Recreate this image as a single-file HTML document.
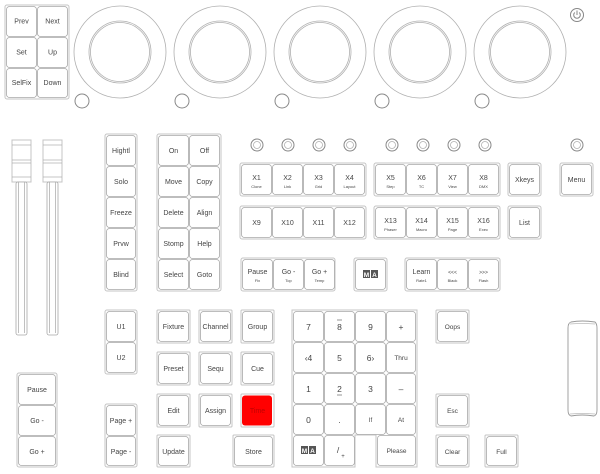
<!DOCTYPE html>
<html><head><meta charset="utf-8"><style>
body{margin:0;background:#fff}
svg{display:block}
text{font-family:"Liberation Sans",sans-serif;fill:#444;text-anchor:middle}
.g{fill:#fff;stroke:#c4c4c4;stroke-width:1}
.b{fill:#fff;stroke:#a8a8a8;stroke-width:0.8}
.c{fill:none;stroke:#b0b0b0;stroke-width:0.8}
.k{fill:none;stroke:#888;stroke-width:1}
</style></head><body>
<svg width="600" height="474" viewBox="0 0 600 474" xmlns="http://www.w3.org/2000/svg" font-size="7">
<!-- top-left group -->
<rect class="g" x="5" y="5" width="64" height="94" rx="2"/>
<rect class="b" x="6.5" y="6.5" width="30" height="30" rx="3"/><text x="21.5" y="23.5">Prev</text>
<rect class="b" x="37.5" y="6.5" width="30" height="30" rx="3"/><text x="52.5" y="23.5">Next</text>
<rect class="b" x="6.5" y="37.5" width="30" height="30" rx="3"/><text x="21.5" y="54.5">Set</text>
<rect class="b" x="37.5" y="37.5" width="30" height="30" rx="3"/><text x="52.5" y="54.5">Up</text>
<rect class="b" x="6.5" y="68.5" width="30" height="29" rx="3"/><text x="21.5" y="85">SelFix</text>
<rect class="b" x="37.5" y="68.5" width="30" height="29" rx="3"/><text x="52.5" y="85">Down</text>
<!-- encoders -->
<g>
<circle class="c" cx="120" cy="52" r="46"/><circle class="c" cx="120" cy="52" r="31"/><circle class="c" cx="120" cy="52" r="29.5"/><circle class="k" cx="82" cy="101" r="7"/>
<circle class="c" cx="220" cy="52" r="46"/><circle class="c" cx="220" cy="52" r="31"/><circle class="c" cx="220" cy="52" r="29.5"/><circle class="k" cx="182" cy="101" r="7"/>
<circle class="c" cx="320" cy="52" r="46"/><circle class="c" cx="320" cy="52" r="31"/><circle class="c" cx="320" cy="52" r="29.5"/><circle class="k" cx="282" cy="101" r="7"/>
<circle class="c" cx="420" cy="52" r="46"/><circle class="c" cx="420" cy="52" r="31"/><circle class="c" cx="420" cy="52" r="29.5"/><circle class="k" cx="382" cy="101" r="7"/>
<circle class="c" cx="520" cy="52" r="46"/><circle class="c" cx="520" cy="52" r="31"/><circle class="c" cx="520" cy="52" r="29.5"/><circle class="k" cx="482" cy="101" r="7"/>
</g>
<circle class="k" cx="577" cy="15" r="6.5"/><path d="M574.8 12.5 A3.3 3.3 0 1 0 579.2 12.5 M577 10.5 V15" fill="none" stroke="#888" stroke-width="1"/>
<!-- faders -->
<g>
<rect class="g" x="12" y="140" width="19" height="42"/><line class="c" x1="12" y1="145" x2="31" y2="145"/><line class="c" x1="12" y1="160" x2="31" y2="160"/><line class="c" x1="12" y1="163" x2="31" y2="163"/><line class="c" x1="12" y1="177" x2="31" y2="177"/>
<rect class="b" x="16" y="182" width="11" height="153" rx="2"/><line class="c" x1="18.5" y1="182" x2="18.5" y2="333"/><line class="c" x1="24.5" y1="182" x2="24.5" y2="333"/>
<rect class="g" x="43" y="140" width="19" height="42"/><line class="c" x1="43" y1="145" x2="62" y2="145"/><line class="c" x1="43" y1="160" x2="62" y2="160"/><line class="c" x1="43" y1="163" x2="62" y2="163"/><line class="c" x1="43" y1="177" x2="62" y2="177"/>
<rect class="b" x="47" y="182" width="11" height="153" rx="2"/><line class="c" x1="49.5" y1="182" x2="49.5" y2="333"/><line class="c" x1="55.5" y1="182" x2="55.5" y2="333"/>
</g>
<!-- Hightl column -->
<rect class="g" x="105" y="134" width="32" height="157" rx="2"/>
<rect class="b" x="106.5" y="135.5" width="29" height="30" rx="3"/><text x="121" y="153">Hightl</text>
<rect class="b" x="106.5" y="166.5" width="29" height="30" rx="3"/><text x="121" y="184">Solo</text>
<rect class="b" x="106.5" y="197.5" width="29" height="30" rx="3"/><text x="121" y="215">Freeze</text>
<rect class="b" x="106.5" y="228.5" width="29" height="30" rx="3"/><text x="121" y="246">Prvw</text>
<rect class="b" x="106.5" y="259.5" width="29" height="30" rx="3"/><text x="121" y="277">Blind</text>
<!-- On/Off block -->
<rect class="g" x="157" y="134" width="64" height="157" rx="2"/>
<rect class="b" x="158.5" y="135.5" width="30" height="30" rx="3"/><text x="173.5" y="153">On</text>
<rect class="b" x="189.5" y="135.5" width="30" height="30" rx="3"/><text x="204.5" y="153">Off</text>
<rect class="b" x="158.5" y="166.5" width="30" height="30" rx="3"/><text x="173.5" y="184">Move</text>
<rect class="b" x="189.5" y="166.5" width="30" height="30" rx="3"/><text x="204.5" y="184">Copy</text>
<rect class="b" x="158.5" y="197.5" width="30" height="30" rx="3"/><text x="173.5" y="215">Delete</text>
<rect class="b" x="189.5" y="197.5" width="30" height="30" rx="3"/><text x="204.5" y="215">Align</text>
<rect class="b" x="158.5" y="228.5" width="30" height="30" rx="3"/><text x="173.5" y="246">Stomp</text>
<rect class="b" x="189.5" y="228.5" width="30" height="30" rx="3"/><text x="204.5" y="246">Help</text>
<rect class="b" x="158.5" y="259.5" width="30" height="30" rx="3"/><text x="173.5" y="277">Select</text>
<rect class="b" x="189.5" y="259.5" width="30" height="30" rx="3"/><text x="204.5" y="277">Goto</text>
<!-- small knobs -->
<g>
<circle class="k" cx="257" cy="145" r="6"/><circle class="c" cx="257" cy="145" r="3.5"/>
<circle class="k" cx="288" cy="145" r="6"/><circle class="c" cx="288" cy="145" r="3.5"/>
<circle class="k" cx="319" cy="145" r="6"/><circle class="c" cx="319" cy="145" r="3.5"/>
<circle class="k" cx="350" cy="145" r="6"/><circle class="c" cx="350" cy="145" r="3.5"/>
<circle class="k" cx="392" cy="145" r="6"/><circle class="c" cx="392" cy="145" r="3.5"/>
<circle class="k" cx="423" cy="145" r="6"/><circle class="c" cx="423" cy="145" r="3.5"/>
<circle class="k" cx="454" cy="145" r="6"/><circle class="c" cx="454" cy="145" r="3.5"/>
<circle class="k" cx="485" cy="145" r="6"/><circle class="c" cx="485" cy="145" r="3.5"/>
<circle class="k" cx="577" cy="145" r="6"/><circle class="c" cx="577" cy="145" r="3.5"/>
</g>
<!-- X block 1 -->
<rect class="g" x="240" y="163" width="126" height="33" rx="2"/>
<rect class="b" x="241.5" y="164.5" width="30" height="30" rx="3"/><text x="256.5" y="180">X1</text><text x="256.5" y="188" font-size="4">Clone</text>
<rect class="b" x="272.5" y="164.5" width="30" height="30" rx="3"/><text x="287.5" y="180">X2</text><text x="287.5" y="188" font-size="4">Link</text>
<rect class="b" x="303.5" y="164.5" width="30" height="30" rx="3"/><text x="318.5" y="180">X3</text><text x="318.5" y="188" font-size="4">Grid</text>
<rect class="b" x="334.5" y="164.5" width="30" height="30" rx="3"/><text x="349.5" y="180">X4</text><text x="349.5" y="188" font-size="4">Layout</text>
<rect class="g" x="240" y="206" width="126" height="33" rx="2"/>
<rect class="b" x="241.5" y="207.5" width="30" height="30" rx="3"/><text x="256.5" y="225">X9</text>
<rect class="b" x="272.5" y="207.5" width="30" height="30" rx="3"/><text x="287.5" y="225">X10</text>
<rect class="b" x="303.5" y="207.5" width="30" height="30" rx="3"/><text x="318.5" y="225">X11</text>
<rect class="b" x="334.5" y="207.5" width="30" height="30" rx="3"/><text x="349.5" y="225">X12</text>
<!-- X block 2 -->
<rect class="g" x="374" y="163" width="126" height="33" rx="2"/>
<rect class="b" x="375.5" y="164.5" width="30" height="30" rx="3"/><text x="390.5" y="180">X5</text><text x="390.5" y="188" font-size="4">Step</text>
<rect class="b" x="406.5" y="164.5" width="30" height="30" rx="3"/><text x="421.5" y="180">X6</text><text x="421.5" y="188" font-size="4">TC</text>
<rect class="b" x="437.5" y="164.5" width="30" height="30" rx="3"/><text x="452.5" y="180">X7</text><text x="452.5" y="188" font-size="4">View</text>
<rect class="b" x="468.5" y="164.5" width="30" height="30" rx="3"/><text x="483.5" y="180">X8</text><text x="483.5" y="188" font-size="4">DMX</text>
<rect class="g" x="374" y="206" width="126" height="33" rx="2"/>
<rect class="b" x="375.5" y="207.5" width="30" height="30" rx="3"/><text x="390.5" y="223">X13</text><text x="390.5" y="231" font-size="4">Phaser</text>
<rect class="b" x="406.5" y="207.5" width="30" height="30" rx="3"/><text x="421.5" y="223">X14</text><text x="421.5" y="231" font-size="4">Macro</text>
<rect class="b" x="437.5" y="207.5" width="30" height="30" rx="3"/><text x="452.5" y="223">X15</text><text x="452.5" y="231" font-size="4">Page</text>
<rect class="b" x="468.5" y="207.5" width="30" height="30" rx="3"/><text x="483.5" y="223">X16</text><text x="483.5" y="231" font-size="4">Exec</text>
<!-- Xkeys, Menu, List -->
<rect class="g" x="508" y="163" width="33" height="33" rx="2"/><rect class="b" x="509.5" y="164.5" width="30" height="30" rx="3"/><text x="524.5" y="182">Xkeys</text>
<rect class="g" x="560" y="163" width="33" height="33" rx="2"/><rect class="b" x="561.5" y="164.5" width="30" height="30" rx="3"/><text x="576.5" y="182">Menu</text>
<rect class="g" x="508" y="206" width="33" height="33" rx="2"/><rect class="b" x="509.5" y="207.5" width="30" height="30" rx="3"/><text x="524.5" y="225">List</text>
<!-- Pause Go- Go+ -->
<rect class="g" x="241" y="258" width="94" height="33" rx="2"/>
<rect class="b" x="242.5" y="259.5" width="30" height="30" rx="3"/><text x="257.5" y="274">Pause</text><text x="257.5" y="282" font-size="4">Fix</text>
<rect class="b" x="273.5" y="259.5" width="30" height="30" rx="3"/><text x="288.5" y="274">Go -</text><text x="288.5" y="282" font-size="4">Top</text>
<rect class="b" x="304.5" y="259.5" width="30" height="30" rx="3"/><text x="319.5" y="274">Go +</text><text x="319.5" y="282" font-size="4">Temp</text>
<!-- MA -->
<rect class="g" x="354" y="258" width="33" height="33" rx="2"/><rect class="b" x="355.5" y="259.5" width="30" height="30" rx="3"/>
<rect x="363" y="270" width="7" height="8" fill="#555"/><rect x="371" y="270" width="7" height="8" fill="#555"/><text x="366.5" y="277" font-size="6.5" style="fill:#fff" font-weight="bold">M</text><text x="374.5" y="277" font-size="6.5" style="fill:#fff" font-weight="bold">A</text>
<!-- Learn block -->
<rect class="g" x="405" y="258" width="95" height="33" rx="2"/>
<rect class="b" x="406.5" y="259.5" width="30" height="30" rx="3"/><text x="421.5" y="274">Learn</text><text x="421.5" y="282" font-size="4">Rate1</text>
<rect class="b" x="437.5" y="259.5" width="30" height="30" rx="3"/><text x="452.5" y="274" font-size="5">&lt;&lt;&lt;</text><text x="452.5" y="282" font-size="4">Black</text>
<rect class="b" x="468.5" y="259.5" width="30" height="30" rx="3"/><text x="483.5" y="274" font-size="5">&gt;&gt;&gt;</text><text x="483.5" y="282" font-size="4">Flash</text>
<!-- U1 U2 -->
<rect class="g" x="105" y="310" width="32" height="64" rx="2"/>
<rect class="b" x="106.5" y="311.5" width="29" height="30" rx="3"/><text x="121" y="329">U1</text>
<rect class="b" x="106.5" y="342.5" width="29" height="30" rx="3"/><text x="121" y="360">U2</text>
<!-- Page -->
<rect class="g" x="105" y="404" width="32" height="63" rx="2"/>
<rect class="b" x="106.5" y="405.5" width="29" height="30" rx="3"/><text x="121" y="423">Page +</text>
<rect class="b" x="106.5" y="436.5" width="29" height="29" rx="3"/><text x="121" y="454">Page -</text>
<!-- Pause Go left -->
<rect class="g" x="17" y="373" width="40" height="94" rx="2"/>
<rect class="b" x="18.5" y="374.5" width="37" height="30" rx="3"/><text x="37" y="392">Pause</text>
<rect class="b" x="18.5" y="405.5" width="37" height="30" rx="3"/><text x="37" y="423">Go -</text>
<rect class="b" x="18.5" y="436.5" width="37" height="29" rx="3"/><text x="37" y="454">Go +</text>
<!-- Fixture grid -->
<rect class="g" x="157" y="310" width="33" height="33" rx="1"/><rect class="b" x="158.5" y="311.5" width="30" height="30" rx="3"/><text x="173.5" y="329">Fixture</text>
<rect class="g" x="199" y="310" width="33" height="33" rx="1"/><rect class="b" x="200.5" y="311.5" width="30" height="30" rx="3"/><text x="215.5" y="329">Channel</text>
<rect class="g" x="241" y="310" width="33" height="33" rx="1"/><rect class="b" x="242.5" y="311.5" width="30" height="30" rx="3"/><text x="257.5" y="329">Group</text>
<rect class="g" x="157" y="352" width="33" height="33" rx="1"/><rect class="b" x="158.5" y="353.5" width="30" height="30" rx="3"/><text x="173.5" y="371">Preset</text>
<rect class="g" x="199" y="352" width="33" height="33" rx="1"/><rect class="b" x="200.5" y="353.5" width="30" height="30" rx="3"/><text x="215.5" y="371">Sequ</text>
<rect class="g" x="241" y="352" width="33" height="33" rx="1"/><rect class="b" x="242.5" y="353.5" width="30" height="30" rx="3"/><text x="257.5" y="371">Cue</text>
<rect class="g" x="157" y="394" width="33" height="33" rx="1"/><rect class="b" x="158.5" y="395.5" width="30" height="30" rx="3"/><text x="173.5" y="413">Edit</text>
<rect class="g" x="199" y="394" width="33" height="33" rx="1"/><rect class="b" x="200.5" y="395.5" width="30" height="30" rx="3"/><text x="215.5" y="413">Assign</text>
<rect class="g" x="241" y="394" width="33" height="33" rx="1"/><rect x="242" y="395.5" width="30" height="30" rx="3" fill="#ff0000"/><text x="257.5" y="413" style="fill:#c00000">Time</text>
<rect class="g" x="157" y="435" width="33" height="32" rx="1"/><rect class="b" x="158.5" y="436.5" width="30" height="29" rx="3"/><text x="173.5" y="454">Update</text>
<rect class="g" x="233" y="435" width="41" height="32" rx="1"/><rect class="b" x="234.5" y="436.5" width="38" height="29" rx="3"/><text x="253.5" y="454">Store</text>
<!-- numpad -->
<path class="g" d="M292 310 H417 V467 H376 V435 H355 V467 H292 Z"/>
<g font-size="8.5">
<rect class="b" x="293.5" y="311.5" width="30" height="30" rx="3"/><text x="308.5" y="330">7</text>
<rect class="b" x="324.5" y="311.5" width="30" height="30" rx="3"/><text x="339.5" y="330">8</text>
<rect class="b" x="355.5" y="311.5" width="30" height="30" rx="3"/><text x="370.5" y="330">9</text>
<rect class="b" x="386.5" y="311.5" width="29" height="30" rx="3"/><text x="401" y="330">+</text>
<rect class="b" x="293.5" y="342.5" width="30" height="30" rx="3"/><text x="308.5" y="361">‹4</text>
<rect class="b" x="324.5" y="342.5" width="30" height="30" rx="3"/><text x="339.5" y="361">5</text>
<rect class="b" x="355.5" y="342.5" width="30" height="30" rx="3"/><text x="370.5" y="361">6›</text>
<rect class="b" x="386.5" y="342.5" width="29" height="30" rx="3"/><text x="401" y="360" font-size="6.5">Thru</text>
<rect class="b" x="293.5" y="373.5" width="30" height="30" rx="3"/><text x="308.5" y="392">1</text>
<rect class="b" x="324.5" y="373.5" width="30" height="30" rx="3"/><text x="339.5" y="392">2</text>
<rect class="b" x="355.5" y="373.5" width="30" height="30" rx="3"/><text x="370.5" y="392">3</text>
<rect class="b" x="386.5" y="373.5" width="29" height="30" rx="3"/><text x="401" y="392">–</text>
<rect class="b" x="293.5" y="404.5" width="30" height="30" rx="3"/><text x="308.5" y="423">0</text>
<rect class="b" x="324.5" y="404.5" width="30" height="30" rx="3"/><text x="339.5" y="423">.</text>
<rect class="b" x="355.5" y="404.5" width="30" height="30" rx="3"/><text x="370.5" y="422" font-size="6">If</text>
<rect class="b" x="386.5" y="404.5" width="29" height="30" rx="3"/><text x="401" y="422" font-size="6.5">At</text>
<rect class="b" x="293.5" y="435.5" width="30" height="30" rx="3"/>
<rect class="b" x="324.5" y="435.5" width="30" height="30" rx="3"/><text x="338" y="453">/</text><text x="343" y="458" font-size="6">+</text>
<rect class="b" x="377.5" y="435.5" width="38" height="30" rx="3"/><text x="396.5" y="453" font-size="6.5">Please</text>
</g>
<line x1="337" y1="320" x2="342" y2="320" stroke="#666" stroke-width="0.7"/>
<line x1="337" y1="395" x2="342" y2="395" stroke="#666" stroke-width="0.7"/>
<rect x="301" y="446" width="7" height="8" fill="#555"/><rect x="309" y="446" width="7" height="8" fill="#555"/><text x="304.5" y="453" font-size="6.5" style="fill:#fff" font-weight="bold">M</text><text x="312.5" y="453" font-size="6.5" style="fill:#fff" font-weight="bold">A</text>
<!-- Oops Esc Clear Full -->
<rect class="g" x="436" y="310" width="33" height="33" rx="1"/><rect class="b" x="437.5" y="311.5" width="30" height="30" rx="3"/><text x="452.5" y="329" font-size="6.5">Oops</text>
<rect class="g" x="436" y="394" width="33" height="33" rx="1"/><rect class="b" x="437.5" y="395.5" width="30" height="30" rx="3"/><text x="452.5" y="413" font-size="6.5">Esc</text>
<rect class="g" x="436" y="435" width="33" height="32" rx="1"/><rect class="b" x="437.5" y="436.5" width="30" height="29" rx="3"/><text x="452.5" y="454" font-size="6.5">Clear</text>
<rect class="g" x="485" y="435" width="33" height="32" rx="1"/><rect class="b" x="486.5" y="436.5" width="30" height="29" rx="3"/><text x="501.5" y="454" font-size="6.5">Full</text>
<!-- jog wheel -->
<path d="M571 322 Q582 320 595 322 Q597 324 597 328 V410 Q597 415 594 416 Q582 414 571 416 Q568 415 568 410 V328 Q568 323 571 322 Z" fill="#fff" stroke="#999" stroke-width="0.9"/>
<path d="M570 324 Q582 323 595 324 M570 414 Q582 413 595 414" fill="none" stroke="#bbb" stroke-width="0.7"/>
</svg>
</body></html>
